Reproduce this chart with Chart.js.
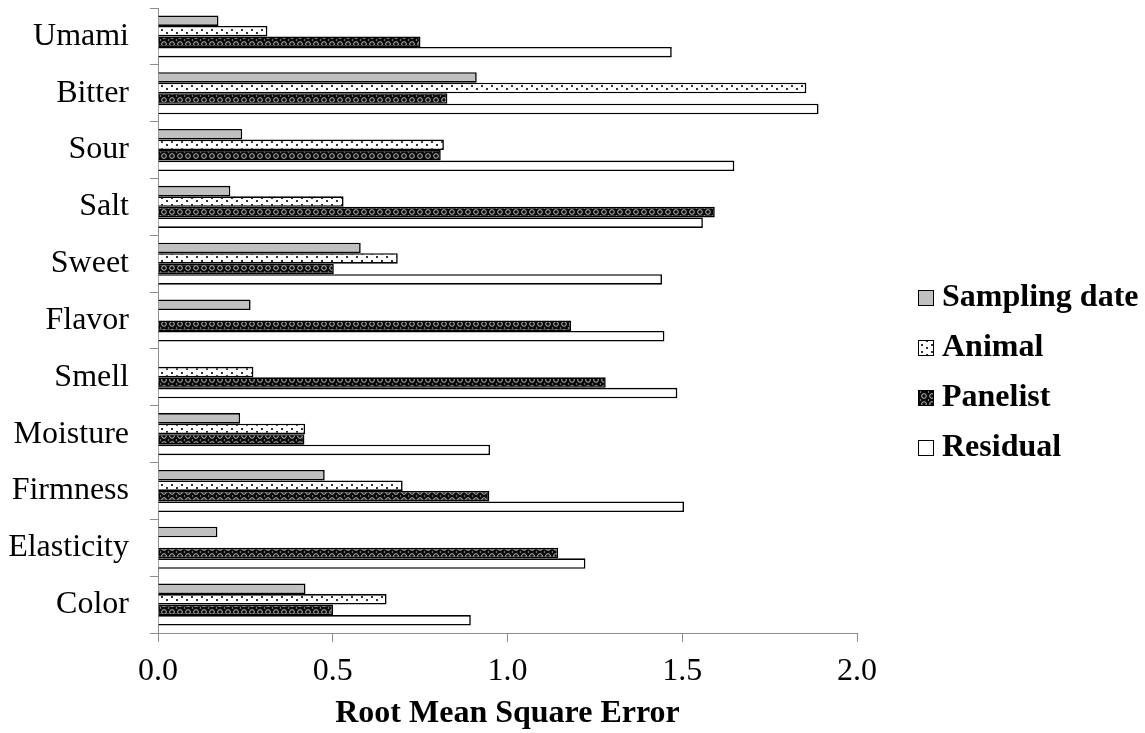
<!DOCTYPE html>
<html>
<head>
<meta charset="utf-8">
<script src="https://cdn.jsdelivr.net/npm/chart.js@4/dist/chart.umd.min.js"></script>
<style>
  html, body { margin: 0; padding: 0; background: #fff; }
  #wrap { width: 1145px; height: 733px; }
</style>
</head>
<body>
<div id="wrap"><canvas id="c" width="1145" height="733"></canvas></div>
<script>
// Sensory attributes, top to bottom
const categories = ['Umami', 'Bitter', 'Sour', 'Salt', 'Sweet', 'Flavor', 'Smell', 'Moisture', 'Firmness', 'Elasticity', 'Color'];

// Root mean square error by source of variation (null = no bar)
const samplingDate = [0.173, 0.912, 0.241, 0.207, 0.580, 0.265, null, 0.235, 0.477, 0.170, 0.422];
const animal       = [0.313, 1.855, 0.818, 0.531, 0.686, null, 0.273, 0.421, 0.700, null, 0.654];
const panelist     = [0.751, 0.828, 0.809, 1.593, 0.503, 1.182, 1.281, 0.419, 0.948, 1.145, 0.501];
const residual     = [1.470, 1.890, 1.649, 1.559, 1.442, 1.449, 1.486, 0.950, 1.505, 1.223, 0.895];

const seriesNames = ['Sampling date', 'Animal', 'Panelist', 'Residual'];
const xTicks = [0, 0.5, 1.0, 1.5, 2.0];

// Fill patterns
function makeTile(w, h, draw) {
  const t = document.createElement('canvas');
  t.width = w; t.height = h;
  draw(t.getContext('2d'));
  return document.getElementById('c').getContext('2d').createPattern(t, 'repeat');
}
const dotFill = makeTile(10, 7, g => {
  g.fillStyle = '#fff'; g.fillRect(0, 0, 10, 7);
  g.fillStyle = '#333';
  g.fillRect(1, 1, 2, 2);
  g.fillRect(6, 4, 2, 2);
});
const hatchFill = makeTile(8, 8, g => {
  g.fillStyle = '#0a0a0a'; g.fillRect(0, 0, 8, 8);
  g.strokeStyle = '#bdbdbd'; g.lineWidth = 1;
  g.beginPath(); g.arc(4, 4, 2.3, 0, Math.PI * 2); g.stroke();
  g.fillStyle = '#777';
  g.fillRect(0, 0, 1, 1); g.fillRect(0, 7, 1, 1);
});
const fills = ['#c0c0c0', dotFill, hatchFill, '#ffffff'];

const seriesValues = [samplingDate, animal, panelist, residual];
const datasets = seriesNames.map((name, i) => ({
  label: name,
  data: seriesValues[i],
  backgroundColor: fills[i],
  borderColor: '#000',
  borderWidth: 1.6,
  borderSkipped: 'start',
  categoryPercentage: 0.74,
  barPercentage: 1.0
}));

const serif = '"Liberation Serif", "Times New Roman", serif';

// Legend drawn to the right of the plot
const sideLegend = {
  id: 'sideLegend',
  afterDraw(chart) {
    const ctx = chart.ctx;
    ctx.save();
    ctx.font = 'bold 32px ' + serif;
    ctx.textBaseline = 'middle';
    ctx.textAlign = 'left';
    seriesNames.forEach((name, i) => {
      const y = 297 + i * 50;
      ctx.fillStyle = fills[i];
      ctx.fillRect(918, y - 7, 15, 15);
      ctx.strokeStyle = '#000';
      ctx.lineWidth = 1;
      ctx.strokeRect(918.5, y - 6.5, 15, 15);
      ctx.fillStyle = '#000';
      ctx.fillText(name, 942, y + 1);
    });
    ctx.restore();
  }
};

new Chart(document.getElementById('c'), {
  type: 'bar',
  data: { labels: categories, datasets },
  plugins: [sideLegend],
  options: {
    indexAxis: 'y',
    responsive: false,
    animation: false,
    layout: { padding: { left: 0, right: 288, top: 8, bottom: 0 } },
    plugins: { legend: { display: false }, tooltip: { enabled: false } },
    scales: {
      x: {
        min: 0, max: 2,
        afterBuildTicks: s => { s.ticks = xTicks.map(v => ({ value: v })); },
        afterFit: s => { s.height = 100; s.paddingLeft = 0; s.paddingRight = 0; },
        border: { color: '#8c8c8c', width: 1 },
        grid: { drawOnChartArea: false, tickLength: 9, color: '#8c8c8c' },
        ticks: {
          color: '#000', padding: 10,
          font: { family: serif, size: 32 },
          callback: v => Number(v).toFixed(1)
        },
        title: {
          display: true, text: 'Root Mean Square Error', color: '#000',
          font: { family: serif, size: 32, weight: 'bold' },
          padding: { top: 2, bottom: 0 }
        }
      },
      y: {
        afterFit: s => { s.width = 158; s.paddingTop = 0; s.paddingBottom = 0; },
        border: { color: '#8c8c8c', width: 1 },
        grid: { drawOnChartArea: false, offset: true, tickLength: 8, color: '#8c8c8c' },
        ticks: { color: '#000', padding: 21, font: { family: serif, size: 32 } }
      }
    }
  }
});
</script>
</body>
</html>
